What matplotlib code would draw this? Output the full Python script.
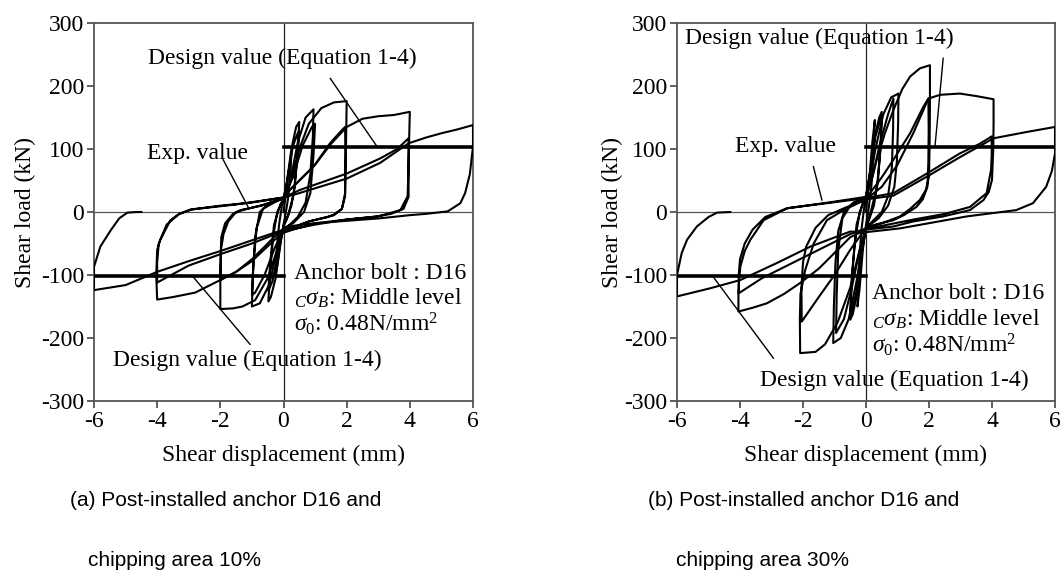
import matplotlib
matplotlib.use('Agg')
import matplotlib.pyplot as plt

plt.rcParams['font.family'] = ['Liberation Serif', 'DejaVu Serif']
plt.rcParams['mathtext.fontset'] = 'custom'
plt.rcParams['mathtext.rm'] = 'Liberation Serif'
plt.rcParams['mathtext.it'] = 'Liberation Serif:italic'
plt.rcParams['axes.unicode_minus'] = False

# ---------------- (a) chipping area 10% : shear displacement (mm) / shear load (kN)
a_x_025 = [0, 0.08, 0.18, 0.25, 0.22, 0.14, 0.05, 0, -0.08, -0.18, -0.25, -0.22, -0.14, -0.05, 0]
a_y_025 = [0, 30, 70, 95, 60, 20, -8, -20, -45, -80, -100, -65, -20, 10, 20]

a_x_05 = [0, 0.1, 0.25, 0.4, 0.5, 0.45, 0.35, 0.25, 0.1, 0, -0.1, -0.25, -0.4, -0.48,
          -0.43, -0.33, -0.2, -0.05, 0, 0.1, 0.3, 0.45, 0.5, 0.45, 0.33, 0.15, 0,
          -0.15, -0.35, -0.48, -0.42, -0.3, -0.1, 0]
a_y_05 = [20, 45, 100, 135, 143, 100, 40, 10, -12, -22, -50, -105, -135, -142,
          -100, -40, 0, 15, 20, 45, 105, 125, 128, 90, 30, -5, -22,
          -60, -110, -125, -80, -20, 12, 20]

a_x_1 = [0, 0.2, 0.45, 0.7, 0.95, 0.93, 0.85, 0.7, 0.45, 0.2, 0, -0.2, -0.45, -0.75, -1.0,
         -0.97, -0.9, -0.75, -0.5, -0.2, 0, 0.3, 0.6, 0.9, 1.0, 0.95, 0.85, 0.65, 0.3, 0,
         -0.3, -0.6, -0.9, -1.0, -0.95, -0.85, -0.65, -0.3, 0]
a_y_1 = [20, 45, 110, 150, 163, 120, 60, 15, -8, -20, -28, -60, -115, -145, -150,
         -100, -40, 0, 12, 18, 22, 55, 105, 135, 140, 90, 30, 0, -18, -26,
         -60, -100, -128, -132, -80, -25, 5, 15, 22]

a_x_2 = [0, 0.2, 0.5, 0.8, 1.2, 1.6, 2.0, 1.99, 1.97, 1.95, 1.85, 1.6, 1.37, 0.8, 0.3, 0,
         -0.2, -0.5, -0.9, -1.3, -1.6, -2.0, -2.0, -1.98, -1.9, -1.75, -1.5, -1.36, -0.7, 0,
         0.2, 0.95, 1.47, 1.85, 1.95, 1.96, 1.95, 1.85, 1.6, 1.4, 0.8, 0,
         -0.3, -1.0, -1.5, -2.0, -1.99, -1.97, -1.85, -1.6, -1.3, -0.6, 0]
a_y_2 = [22, 45, 100, 140, 165, 174, 176, 140, 80, 30, 5, -5, -8, -15, -25, -30,
         -60, -105, -140, -150, -153, -154, -110, -60, -35, -15, 0, 3, 10, 22,
         35, 72, 109, 130, 135, 90, 25, 5, -4, -8, -15, -30,
         -40, -75, -95, -108, -70, -40, -18, -3, 3, 12, 22]

a_x_4 = [0, 0.2, 1.0, 1.5, 2.0, 2.5, 3.0, 3.5, 4.0, 3.98, 3.96, 3.96, 3.8, 3.4, 2.96, 2.0, 1.0, 0.3, 0,
         -0.3, -1.0, -1.5, -2.0, -2.8, -3.5, -4.0, -4.03, -4.0, -3.9, -3.58, -3.3, -2.94, -2.0, -1.0, 0,
         0.52, 2.0, 3.06, 3.6, 3.96, 3.95, 3.93, 3.7, 3.0, 2.0, 1.0, 0,
         -1.0, -2.0, -3.0, -4.0, -4.0, -3.95, -3.7, -3.3, -2.9, -1.5, 0]
a_y_4 = [22, 35, 75, 108, 135, 148, 152, 154, 159, 120, 60, 24, 5, -3, -7, -12, -18, -28, -33,
         -45, -78, -95, -108, -128, -135, -139, -100, -60, -44, -13, -3, 4, 10, 15, 23,
         35, 61, 85, 100, 117, 60, 25, 3, -7, -12, -20, -30,
         -50, -67, -85, -112, -80, -50, -20, -3, 4, 12, 23]

a_x_6 = [0, 0.5, 2.0, 3.06, 3.96, 4.5, 5.0, 5.5, 6.0, 6.0, 5.9, 5.75, 5.6, 5.2, 4.5, 4.0, 3.06,
         2.0, 0.94, 0.3, 0, -1.0, -2.0, -3.0, -4.0, -5.0, -6.0,
         -6.0, -5.8, -5.47, -5.2, -4.94, -4.66, -4.5]
a_y_6 = [23, 30, 53, 78, 109, 118, 125, 131, 138, 104, 60, 30, 14, 1, -3, -5, -10,
         -14, -18, -22, -28, -45, -62, -78, -95, -116, -124,
         -87, -55, -29, -10, -1, 0, 0]

# ---------------- (b) chipping area 30%
b_x_025 = [0, 0.1, 0.2, 0.28, 0.25, 0.17, 0.07, 0, -0.1, -0.2, -0.27, -0.24, -0.15, -0.05, 0]
b_y_025 = [0, 50, 110, 146, 100, 40, 0, -20, -60, -120, -150, -100, -30, 10, 25]

b_x_05 = [0, 0.12, 0.28, 0.42, 0.5, 0.47, 0.38, 0.25, 0.1, 0, -0.12, -0.28, -0.42, -0.5,
          -0.46, -0.36, -0.2, -0.05, 0, 0.12, 0.3, 0.45, 0.5, 0.46, 0.35, 0.15, 0,
          -0.15, -0.32, -0.45, -0.5, -0.45, -0.3, -0.1, 0]
b_y_05 = [25, 60, 120, 150, 159, 110, 50, 10, -12, -25, -60, -130, -162, -171,
          -120, -50, 0, 18, 25, 60, 120, 145, 150, 100, 40, 0, -25,
          -70, -130, -158, -162, -100, -20, 15, 25]

b_x_1 = [0, 0.1, 0.3, 0.55, 0.8, 1.03, 1.02, 0.98, 0.9, 0.7, 0.4, 0, -0.1, -0.3, -0.55, -0.8, -1.04,
         -1.02, -0.97, -0.88, -0.7, -0.4, 0, 0.2, 0.45, 0.7, 0.87, 0.86, 0.82, 0.7, 0.5, 0.2, 0,
         -0.2, -0.45, -0.7, -0.95, -0.93, -0.88, -0.75, -0.5, -0.2, 0]
b_y_1 = [25, 45, 100, 155, 182, 188, 140, 80, 40, 10, -10, -25, -50, -110, -170, -200, -208,
         -150, -80, -30, 0, 15, 25, 55, 110, 155, 180, 130, 70, 25, 0, -15, -25,
         -60, -120, -170, -192, -130, -60, -10, 10, 18, 25]

b_x_2 = [0, 0.15, 0.34, 0.6, 0.87, 1.15, 1.4, 1.71, 2.03, 2.03, 2.02, 2.0, 1.9, 1.71, 1.4, 1.08, 0.5, 0,
         -0.2, -0.5, -0.9, -1.3, -1.6, -2.09, -2.1, -2.08, -2.0, -1.93, -1.66, -1.24, -0.71, 0,
         0.13, 0.5, 0.87, 1.4, 1.82, 1.98, 1.99, 1.98, 1.95, 1.8, 1.6, 1.2, 0.87, 0.3, 0,
         -0.5, -1.0, -1.5, -2.04, -2.05, -2.0, -1.9, -1.6, -1.2, -0.6, 0]
b_y_2 = [25, 45, 83, 125, 162, 195, 215, 228, 233, 170, 110, 56, 35, 19, 5, -7, -18, -25,
         -60, -120, -175, -210, -222, -224, -170, -130, -110, -92, -50, -13, 3, 20,
         30, 55, 83, 125, 167, 180, 130, 80, 40, 20, 8, -5, -13, -20, -25,
         -60, -100, -135, -174, -120, -80, -55, -25, -5, 8, 20]

b_x_4 = [0, 0.5, 1.0, 1.5, 1.98, 2.35, 2.98, 3.5, 4.05, 4.05, 4.04, 4.0, 3.9, 3.73, 3.3, 2.45, 1.5, 0.87, 0,
         -0.5, -1.0, -1.5, -2.1, -2.6, -3.15, -3.6, -4.05, -4.05, -4.03, -3.99, -3.85, -3.67, -3.25, -2.5, -1.24, 0,
         0.87, 1.93, 2.98, 3.6, 3.99, 3.99, 3.97, 3.83, 3.3, 2.5, 1.5, 0.5, 0,
         -0.5, -1.5, -2.5, -3.3, -4.04, -4.04, -4.0, -3.85, -3.6, -3.2, -2.5, -1.2, 0]
b_y_4 = [20, 40, 75, 125, 180, 186, 188, 184, 179, 140, 100, 51, 32, 19, 3, -7, -15, -23, -28,
         -40, -65, -90, -113, -130, -145, -152, -158, -130, -110, -87, -62, -44, -13, 6, 14, 22,
         30, 61, 93, 108, 120, 90, 67, 30, 8, -3, -12, -22, -26,
         -35, -60, -85, -105, -129, -100, -75, -50, -28, -8, 6, 15, 24]

b_x_6 = [0, 0.87, 1.93, 2.98, 4.05, 5.1, 6.0, 6.0, 5.9, 5.72, 5.3, 4.77, 3.2, 1.08, 0,
         -0.5, -1.77, -2.83, -3.99, -4.94, -6.0,
         -6.0, -5.85, -5.68, -5.37, -5.0, -4.73, -4.31]
b_y_6 = [20, 26, 56, 87, 117, 127, 135, 93, 65, 40, 14, 3, -7, -26, -32,
         -31, -55, -81, -108, -121, -134,
         -100, -65, -44, -23, -8, -1, 0]

design_value = 103  # kN

panels = [
    dict(pos=[94 / 1061, 1 - 401 / 581, 379 / 1061, 378 / 581],
         curves=[(a_x_025, a_y_025), (a_x_05, a_y_05), (a_x_1, a_y_1),
                 (a_x_2, a_y_2), (a_x_4, a_y_4), (a_x_6, a_y_6)],
         top_txt=(-0.03, 244), top_line=((1.48, 212), (2.96, 104)),
         exp_txt=(-2.73, 93), exp_line=((-1.91, 83), (-1.12, 8)),
         bot_txt=(-1.14, -235), bot_line=((-1.06, -210), (-2.86, -103)),
         info=(0.33, -97, 40),
         caption=((70, 500, '(a) Post-installed anchor D16 and'), (88, 560, 'chipping area 10%')),
         ylab_x=25),
    dict(pos=[677 / 1061, 1 - 401 / 581, 378 / 1061, 378 / 581],
         curves=[(b_x_025, b_y_025), (b_x_05, b_y_05), (b_x_1, b_y_1),
                 (b_x_2, b_y_2), (b_x_4, b_y_4), (b_x_6, b_y_6)],
         top_txt=(-1.49, 276), top_line=((2.45, 244), (2.19, 104)),
         exp_txt=(-2.57, 104), exp_line=((-1.67, 72), (-1.4, 19)),
         bot_txt=(0.89, -267), bot_line=((-2.94, -232), (-4.85, -103)),
         info=(0.2, -129, 41),
         caption=((648, 500, '(b) Post-installed anchor D16 and'), (676, 560, 'chipping area 30%')),
         ylab_x=612),
]

fig = plt.figure(figsize=(10.61, 5.81), dpi=100)
fs = 17

for p in panels:
    ax = fig.add_axes(p['pos'])
    ax.set_xlim(-6, 6)
    ax.set_ylim(-300, 300)
    ax.set_xticks([-6, -4, -2, 0, 2, 4, 6])
    ax.set_yticks([-300, -200, -100, 0, 100, 200, 300])
    ax.tick_params(direction='out', length=5, width=1.2, labelsize=fs, color='#444444', pad=2)
    for s in ax.spines.values():
        s.set_color('#555555')
        s.set_linewidth(1.3)
    ax.axhline(0, color='#555555', lw=0.9, zorder=1)
    ax.axvline(0, color='#222222', lw=0.9, zorder=1)

    for xs, ys in p['curves']:
        ax.plot(xs, ys, color='black', lw=1.5, solid_joinstyle='round', zorder=3)

    # design values
    ax.plot([0, 6], [design_value, design_value], color='black', lw=2.6, zorder=4)
    ax.plot([-6, 0], [-design_value + 1, -design_value + 1], color='black', lw=2.6, zorder=4)

    ax.text(*p['top_txt'], 'Design value (Equation 1-4)', fontsize=fs, ha='center', va='center', zorder=5)
    ax.text(*p['exp_txt'], 'Exp. value', fontsize=fs, ha='center', va='center', zorder=5)
    ax.text(*p['bot_txt'], 'Design value (Equation 1-4)', fontsize=fs, ha='center', va='center', zorder=5)
    for (x0, y0), (x1, y1) in (p['top_line'], p['exp_line'], p['bot_line']):
        ax.plot([x0, x1], [y0, y1], color='black', lw=1.0, zorder=4)

    ix, iy, dy = p['info']
    ax.text(ix, iy, 'Anchor bolt : D16', fontsize=fs, va='center', zorder=5)
    ax.text(ix, iy - dy, r'$_{C}\sigma_{B}$: Middle level', fontsize=fs, va='center', zorder=5)
    ax.text(ix, iy - 2 * dy, r'$\sigma_{0}$: 0.48N/mm$^{2}$', fontsize=fs, va='center', zorder=5)

    cx = (p['pos'][0] + p['pos'][2] / 2)
    fig.text(cx, 1 - 455 / 581, 'Shear displacement (mm)', fontsize=fs, ha='center', va='center')
    fig.text(p['ylab_x'] / 1061, 1 - 212 / 581, 'Shear load (kN)', fontsize=fs, rotation=90,
             ha='center', va='center')

    for x, y, t in p['caption']:
        fig.text(x / 1061, 1 - y / 581, t, fontsize=15, ha='left', va='center',
                 family=['Liberation Sans', 'DejaVu Sans'])

fig.savefig('out.png', dpi=100)
